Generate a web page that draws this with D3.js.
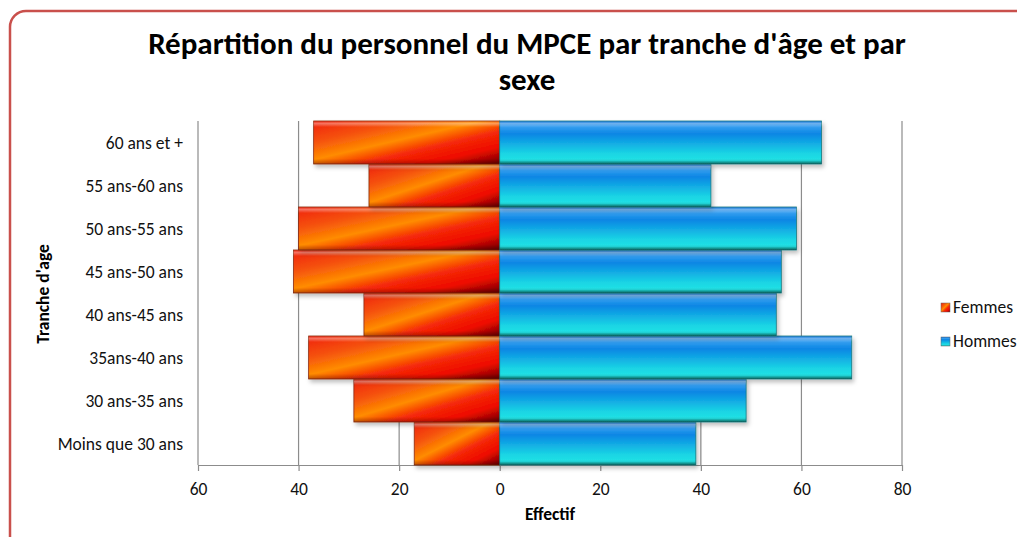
<!DOCTYPE html>
<html>
<head>
<meta charset="utf-8">
<script src="https://cdn.jsdelivr.net/npm/d3@7"></script>
<style>
	body { margin: 0; background: #fff; }
	svg { display: block; font-family: Calibri, Carlito, "Open Sans", sans-serif; }
</style>
</head>
<body>
<svg id="chart" width="1017" height="537"></svg>
<script>
'use strict';

// tranches d'âge, du bas vers le haut
const categories = ['Moins que 30 ans', '30 ans-35 ans', '35ans-40 ans', '40 ans-45 ans',
	'45 ans-50 ans', '50 ans-55 ans', '55 ans-60 ans', '60 ans et +'];
const femmes = [17, 29, 38, 27, 41, 40, 26, 37];
const hommes = [39, 49, 70, 55, 56, 59, 42, 64];
const xTicks = [-60, -40, -20, 0, 20, 40, 60, 80];
const seriesNames = ['Femmes', 'Hommes'];

const svg = d3.select('#chart');
const W = 1017, H = 537;
const FS = 17.5; // taille des libellés

// cadre arrondi
svg.append('rect')
	.attr('x', 10).attr('y', 11)
	.attr('width', W + 20).attr('height', H + 20)
	.attr('rx', 16)
	.attr('fill', '#fff')
	.attr('stroke', '#c9504c')
	.attr('stroke-width', 2.5);

/** gradients */
const defs = svg.append('defs');
let gF = defs.append('linearGradient').attr('id', 'gFem')
	.attr('x1', 0).attr('y1', 0).attr('x2', 1).attr('y2', 1);
[['0%', '#f0200e'], ['25%', '#f5520c'], ['45%', '#ff8c00'], ['62%', '#f52a08'],
	['80%', '#ee0a00'], ['100%', '#6e0000']].forEach(s => gF.append('stop').attr('offset', s[0]).attr('stop-color', s[1]));

let gH = defs.append('linearGradient').attr('id', 'gHom')
	.attr('x1', 0).attr('y1', 0).attr('x2', 0).attr('y2', 1);
[['0%', '#0a6fd8'], ['12%', '#3aa0f0'], ['30%', '#0a86e4'], ['75%', '#1ad4e4'],
	['92%', '#22e2e4'], ['100%', '#0a8a80']].forEach(s => gH.append('stop').attr('offset', s[0]).attr('stop-color', s[1]));

// reflet haut des barres
let gTop = defs.append('linearGradient').attr('id', 'gTop')
	.attr('x1', 0).attr('y1', 0).attr('x2', 0).attr('y2', 1);
[['0%', 'rgba(255,255,255,0.0)'], ['6%', 'rgba(255,255,255,0.35)'], ['14%', 'rgba(255,255,255,0)'],
	['88%', 'rgba(0,0,0,0)'], ['100%', 'rgba(0,0,0,0.25)']].forEach(s => gTop.append('stop').attr('offset', s[0]).attr('stop-color', s[1]));

let shadow = defs.append('filter').attr('id', 'shadow')
	.attr('x', '-10%').attr('y', '-10%').attr('width', '130%').attr('height', '140%');
shadow.append('feDropShadow').attr('dx', 2).attr('dy', 3).attr('stdDeviation', 2)
	.attr('flood-color', '#000').attr('flood-opacity', 0.25);

/** scales */
const plot = { left: 198, right: 902, top: 121, bottom: 465 };
const x = d3.scaleLinear().domain([-60, 80]).range([plot.left, plot.right]);
const y = d3.scaleBand().domain(categories.slice().reverse())
	.range([plot.top, plot.bottom]).padding(0);

// titre
svg.append('text')
	.attr('x', 527).attr('y', 54)
	.attr('text-anchor', 'middle')
	.attr('font-size', 31).attr('font-weight', 'bold')
	.text("Répartition du personnel du MPCE par tranche d'âge et par");
svg.append('text')
	.attr('x', 527).attr('y', 90)
	.attr('text-anchor', 'middle')
	.attr('font-size', 31).attr('font-weight', 'bold')
	.text('sexe');

// grille verticale
svg.append('g').selectAll('line')
	.data(xTicks)
	.join('line')
		.attr('x1', d => x(d)).attr('x2', d => x(d))
		.attr('y1', plot.top).attr('y2', plot.bottom)
		.attr('stroke', '#8c8c8c').attr('stroke-width', 1.2);

// axe des x
const xAxis = svg.append('g')
	.attr('transform', `translate(0,${plot.bottom})`)
	.call(d3.axisBottom(x).tickValues(xTicks).tickFormat(d => Math.abs(d)).tickSize(6).tickSizeOuter(0));
xAxis.select('.domain').attr('stroke', '#8c8c8c').attr('stroke-width', 1.2);
xAxis.selectAll('.tick line').attr('stroke', '#8c8c8c').attr('stroke-width', 1.2);
xAxis.selectAll('.tick text')
	.attr('font-size', FS).attr('fill', '#111').attr('y', 30).attr('dy', 0)
	.attr('font-family', 'Calibri, Carlito, "Open Sans", sans-serif');

// barres
const rows = categories.map((c, i) => ({ cat: c, f: femmes[i], h: hommes[i] }));
const bars = svg.append('g');

bars.selectAll('rect.fem')
	.data(rows)
	.join('rect')
		.attr('class', 'fem')
		.attr('x', d => x(-d.f))
		.attr('y', d => y(d.cat))
		.attr('width', d => x(0) - x(-d.f))
		.attr('height', y.bandwidth())
		.attr('fill', 'url(#gFem)')
		.attr('stroke', '#8a2a10').attr('stroke-width', 0.8)
		.attr('filter', 'url(#shadow)');

bars.selectAll('rect.hom')
	.data(rows)
	.join('rect')
		.attr('class', 'hom')
		.attr('x', x(0))
		.attr('y', d => y(d.cat))
		.attr('width', d => x(d.h) - x(0))
		.attr('height', y.bandwidth())
		.attr('fill', 'url(#gHom)')
		.attr('stroke', '#1a7a80').attr('stroke-width', 0.8)
		.attr('filter', 'url(#shadow)');

bars.selectAll('rect.shine')
	.data(rows.flatMap(d => [[-d.f, 0, d.cat], [0, d.h, d.cat]]))
	.join('rect')
		.attr('class', 'shine')
		.attr('x', d => x(d[0]))
		.attr('y', d => y(d[2]))
		.attr('width', d => x(d[1]) - x(d[0]))
		.attr('height', y.bandwidth())
		.attr('fill', 'url(#gTop)');

// libellés des catégories
svg.append('g').selectAll('text')
	.data(categories)
	.join('text')
		.attr('x', 183)
		.attr('y', d => y(d) + y.bandwidth() / 2)
		.attr('dy', '0.35em')
		.attr('text-anchor', 'end')
		.attr('font-size', FS).attr('fill', '#111')
		.text(d => d);

// titres des axes
svg.append('text')
	.attr('x', 550).attr('y', 520)
	.attr('text-anchor', 'middle')
	.attr('font-size', 17.5).attr('font-weight', 'bold')
	.text('Effectif');
svg.append('text')
	.attr('transform', 'translate(49,294) rotate(-90)')
	.attr('text-anchor', 'middle')
	.attr('font-size', 17.5).attr('font-weight', 'bold')
	.text("Tranche d'age");

// légende
const legend = svg.append('g').selectAll('g')
	.data(seriesNames)
	.join('g')
		.attr('transform', (d, i) => `translate(941,${307 + i * 34})`);
legend.append('rect')
	.attr('x', 0).attr('y', -4).attr('width', 9).attr('height', 9)
	.attr('fill', (d, i) => i === 0 ? 'url(#gFem)' : 'url(#gHom)')
	.attr('stroke', '#666').attr('stroke-width', 0.5);
legend.append('text')
	.attr('x', 12).attr('dy', '0.35em')
	.attr('font-size', FS).attr('fill', '#111')
	.text(d => d);
</script>
</body>
</html>
